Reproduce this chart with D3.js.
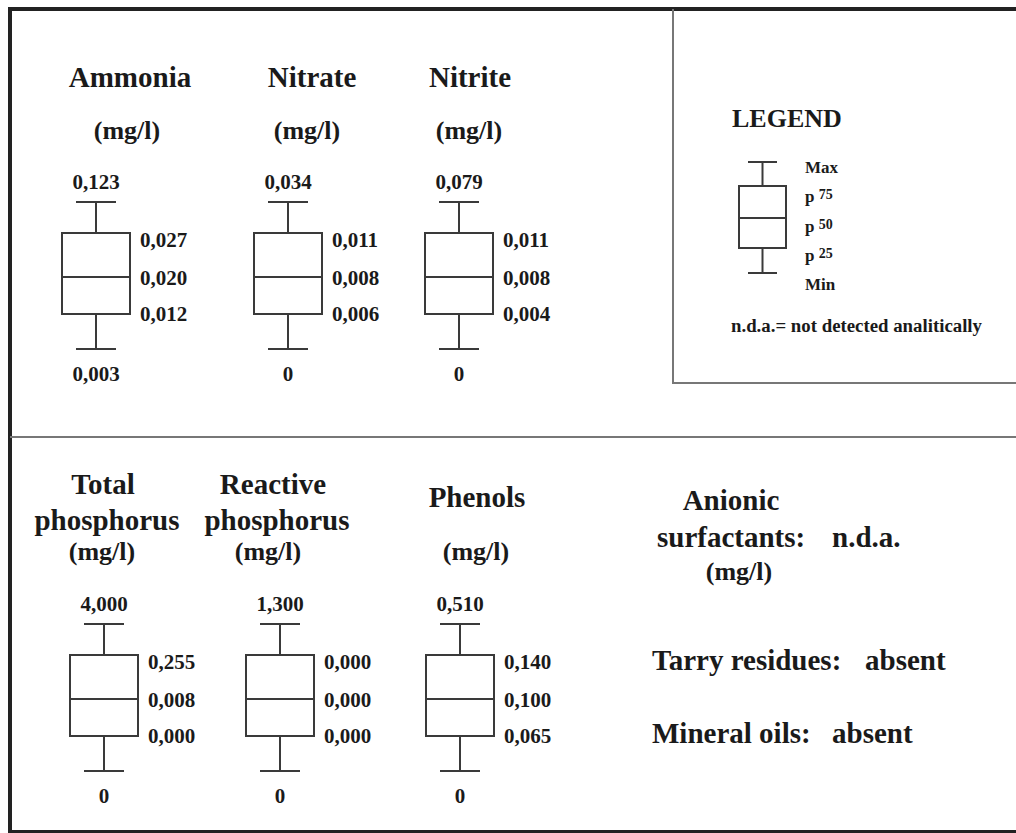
<!DOCTYPE html>
<html>
<head>
<meta charset="utf-8">
<script src="https://cdn.jsdelivr.net/npm/d3@7"></script>
<style>
  html, body { margin: 0; padding: 0; background: #fff; }
  svg text { font-family: "Liberation Serif", "Times New Roman", serif; font-weight: bold; fill: #1a1a1a; }
</style>
</head>
<body>
<script>
// ---------------- DATA ----------------
const params      = ["Ammonia", "Nitrate", "Nitrite", "Total phosphorus", "Reactive phosphorus", "Phenols"];
const titleLines  = [["Ammonia"], ["Nitrate"], ["Nitrite"], ["Total", "phosphorus"], ["Reactive", "phosphorus"], ["Phenols"]];
const unitLabel   = "(mg/l)";
const maxVals     = ["0,123", "0,034", "0,079", "4,000", "1,300", "0,510"];
const p75Vals     = ["0,027", "0,011", "0,011", "0,255", "0,000", "0,140"];
const p50Vals     = ["0,020", "0,008", "0,008", "0,008", "0,000", "0,100"];
const p25Vals     = ["0,012", "0,006", "0,004", "0,000", "0,000", "0,065"];
const minVals     = ["0,003", "0", "0", "0", "0", "0"];
const statKeys    = ["Max", "p75", "p50", "p25", "Min"];
const legendLabels = [["Max", ""], ["p ", "75"], ["p ", "50"], ["p ", "25"], ["Min", ""]];
const legendTitle = "LEGEND";
const footnote    = "n.d.a.= not detected analitically";
const otherParams  = [["Anionic", "surfactants:"], ["Tarry residues:"], ["Mineral oils:"]];
const otherResults = ["n.d.a.", "absent", "absent"];

// ---------------- LAYOUT ----------------
const W = 1016, H = 833;
const svg = d3.select("body").append("svg").attr("width", W).attr("height", H);

const rows = [params.slice(0, 3), params.slice(3, 6)];
const rowTop = [202, 624];           // y of Max cap for each row
// schematic vertical scale (box plot is drawn schematically, not to value)
const yStat = d3.scaleOrdinal().domain(statKeys).range([0, 31, 75, 112, 147]);
// column centres
const xCenter = d3.scaleOrdinal().domain(params).range([96, 288, 459, 104, 280, 460]);
const xTitle  = d3.scaleOrdinal().domain(params).range([130, 312, 470, 103, 273, 477]);
const xUnit   = d3.scaleOrdinal().domain(params).range([127, 307, 469, 102, 268, 476]);
const boxW = 68, capW = 40;
const lineCol = "#3a3a3a";
const numSize = 21, titleSize = 29, unitSize = 26;

// Frame
const frame = svg.append("g");
frame.append("line").attr("x1", 8).attr("x2", W).attr("y1", 9).attr("y2", 9)
  .attr("stroke", "#222").attr("stroke-width", 4);
frame.append("line").attr("x1", 10).attr("x2", 10).attr("y1", 7).attr("y2", H)
  .attr("stroke", "#222").attr("stroke-width", 4);
frame.append("line").attr("x1", 8).attr("x2", W).attr("y1", 831.5).attr("y2", 831.5)
  .attr("stroke", "#222").attr("stroke-width", 3);
frame.append("line").attr("x1", 10).attr("x2", W).attr("y1", 437).attr("y2", 437)
  .attr("stroke", "#777").attr("stroke-width", 2);
frame.append("path").attr("d", `M673,9V383H${W}`).attr("fill", "none")
  .attr("stroke", "#777").attr("stroke-width", 2);

const stats = { Max: maxVals, p75: p75Vals, p50: p50Vals, p25: p25Vals, Min: minVals };

function drawBox(g, cx, y0, ys, bw, cw, sw) {
  const y = k => y0 + ys(k);
  g.append("line").attr("x1", cx).attr("x2", cx).attr("y1", y("Max")).attr("y2", y("p75"))
    .attr("stroke", lineCol).attr("stroke-width", sw);
  g.append("line").attr("x1", cx).attr("x2", cx).attr("y1", y("p25")).attr("y2", y("Min"))
    .attr("stroke", lineCol).attr("stroke-width", sw);
  ["Max", "Min"].forEach(k => g.append("line")
    .attr("x1", cx - cw / 2).attr("x2", cx + cw / 2).attr("y1", y(k)).attr("y2", y(k))
    .attr("stroke", lineCol).attr("stroke-width", sw));
  g.append("rect").attr("x", cx - bw / 2).attr("y", y("p75")).attr("width", bw)
    .attr("height", y("p25") - y("p75")).attr("fill", "none")
    .attr("stroke", lineCol).attr("stroke-width", sw);
  g.append("line").attr("x1", cx - bw / 2).attr("x2", cx + bw / 2).attr("y1", y("p50")).attr("y2", y("p50"))
    .attr("stroke", lineCol).attr("stroke-width", sw);
}

rows.forEach((rowParams, ri) => {
  const y0 = rowTop[ri];
  rowParams.forEach(p => {
    const i = params.indexOf(p);
    const g = svg.append("g");
    const cx = xCenter(p);
    drawBox(g, cx, y0, yStat, boxW, capW, 2);
    // titles
    const lines = titleLines[i];
    const titleBase = ri === 0 ? [87] : (lines.length === 2 ? [494, 530] : [507]);
    lines.forEach((t, li) => g.append("text").attr("x", xTitle(p) + (li === 1 ? 4 : 0)).attr("y", titleBase[li])
      .attr("text-anchor", "middle").attr("font-size", titleSize).text(t));
    g.append("text").attr("x", xUnit(p)).attr("y", ri === 0 ? 139 : 560)
      .attr("text-anchor", "middle").attr("font-size", unitSize).text(unitLabel);
    // values
    g.append("text").attr("x", cx).attr("y", y0 + yStat("Max") - 13)
      .attr("text-anchor", "middle").attr("font-size", numSize).text(stats.Max[i]);
    g.append("text").attr("x", cx).attr("y", y0 + yStat("Min") + 32)
      .attr("text-anchor", "middle").attr("font-size", numSize).text(stats.Min[i]);
    const off = { p75: 14, p50: 8, p25: 7 };
    ["p75", "p50", "p25"].forEach(k => g.append("text")
      .attr("x", cx + boxW / 2 + 10).attr("y", y0 + yStat(k) + off[k])
      .attr("font-size", numSize).text(stats[k][i]));
  });
});

// Legend
const lg = svg.append("g");
lg.append("text").attr("x", 732).attr("y", 127).attr("font-size", 26).text(legendTitle);
const yLeg = d3.scaleOrdinal().domain(statKeys).range([0, 24, 56, 86, 111]);
drawBox(lg, 762.5, 162, yLeg, 47, 29, 2);
const legLabelY = d3.scalePoint().domain(statKeys).range([173, 290]);
legendLabels.forEach((l, i) => {
  const t = lg.append("text").attr("x", 805).attr("y", legLabelY(statKeys[i])).attr("font-size", 17);
  t.append("tspan").text(l[0]);
  if (l[1]) t.append("tspan").attr("font-size", 14).attr("dy", -3).text(l[1]);
});
lg.append("text").attr("x", 731).attr("y", 332).attr("font-size", 18)
  .attr("textLength", 251).attr("lengthAdjust", "spacingAndGlyphs").text(footnote);

// Other parameters (bottom right)
const og = svg.append("g");
og.append("text").attr("x", 731).attr("y", 510).attr("text-anchor", "middle").attr("font-size", titleSize).text(otherParams[0][0]);
og.append("text").attr("x", 657).attr("y", 547).attr("font-size", titleSize).text(otherParams[0][1]);
og.append("text").attr("x", 832).attr("y", 547).attr("font-size", titleSize).text(otherResults[0]);
og.append("text").attr("x", 739).attr("y", 580).attr("text-anchor", "middle").attr("font-size", unitSize).text(unitLabel);
og.append("text").attr("x", 652).attr("y", 670).attr("font-size", titleSize).text(otherParams[1][0]);
og.append("text").attr("x", 865).attr("y", 670).attr("font-size", titleSize).text(otherResults[1]);
og.append("text").attr("x", 652).attr("y", 743).attr("font-size", titleSize).text(otherParams[2][0]);
og.append("text").attr("x", 832).attr("y", 743).attr("font-size", titleSize).text(otherResults[2]);
</script>
</body>
</html>
